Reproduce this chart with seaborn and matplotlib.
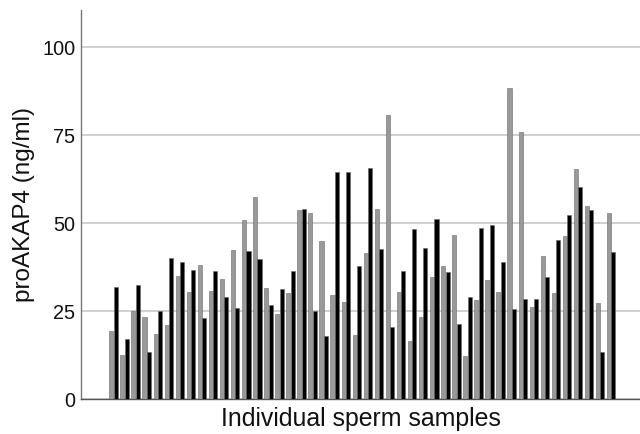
import numpy as np
import pandas as pd
import matplotlib
matplotlib.use("Agg")
import matplotlib.pyplot as plt
import seaborn as sns

# --- DATA ---
samples = list(range(1, 47))
series_names = ["Series 1", "Series 2"]
grey_vals = [19.4, 12.5, 25.1, 23.2, 18.4, 21.0, 35.1, 30.4, 38.0, 30.8,
             34.1, 42.3, 51.0, 57.5, 31.6, 24.3, 30.2, 53.7, 53.0, 44.8,
             29.7, 27.7, 18.2, 41.4, 54.1, 80.7, 30.4, 16.5, 23.4, 34.7,
             37.8, 46.7, 12.1, 28.1, 33.7, 30.5, 88.3, 75.8, 26.3, 40.7,
             30.0, 46.4, 65.4, 54.8, 27.3, 52.9]
black_vals = [31.9, 17.1, 32.3, 13.4, 25.1, 40.0, 39.0, 36.6, 23.0, 36.4,
              29.1, 25.8, 42.0, 39.9, 26.8, 31.4, 36.4, 54.0, 25.1, 18.0,
              64.6, 64.4, 37.7, 65.6, 42.6, 20.5, 36.3, 48.3, 43.0, 51.1,
              36.0, 21.3, 29.1, 48.5, 49.6, 39.0, 25.5, 28.3, 28.3, 34.8,
              45.2, 52.4, 60.4, 53.6, 13.5, 41.7]
colors = ["#999999", "#000000"]

df = pd.DataFrame({
    "sample": samples * 2,
    "series": [series_names[0]] * len(samples) + [series_names[1]] * len(samples),
    "value": grey_vals + black_vals,
})

# --- PLOT ---
sns.set_style("white")
plt.rcParams["font.family"] = ["Liberation Sans", "DejaVu Sans"]

fig = plt.figure(figsize=(6.4, 4.34), dpi=100)
ax = fig.add_axes([0.1266, 0.0806, 0.8734, 0.8964])

sns.barplot(data=df, x="sample", y="value", hue="series", palette=colors,
            width=0.8, gap=0.08, edgecolor="#6a6a6a", linewidth=0.4,
            legend=False, ax=ax, zorder=3)

ax.set_xlim(-2.94, 47.6)
ax.set_ylim(0, 110.6)
ax.set_yticks([0, 25, 50, 75, 100])
ax.set_xticks([])
ax.yaxis.grid(True, color="#c8c8c8", linewidth=1.2, zorder=0)
ax.set_axisbelow(True)

for side in ["top", "right"]:
    ax.spines[side].set_visible(False)
ax.spines["left"].set_color("#777777")
ax.spines["bottom"].set_color("#555555")
ax.spines["left"].set_linewidth(1.0)
ax.spines["bottom"].set_linewidth(1.0)

ax.tick_params(axis="y", length=0, pad=4, labelsize=14.3, labelcolor="#111111")
ax.set_xlabel("Individual sperm samples", fontsize=17.9, color="#111111", labelpad=6)
ax.set_ylabel("proAKAP4 (ng/ml)", fontsize=17.5, color="#111111", labelpad=5)

fig.savefig("out.png", dpi=100)
